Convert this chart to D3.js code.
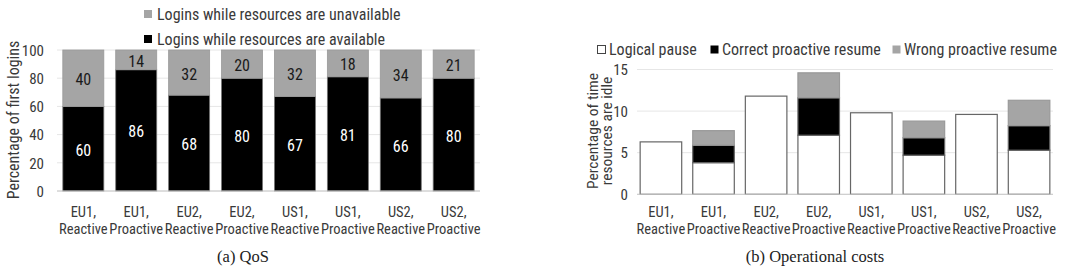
<!DOCTYPE html>
<html>
<head>
<meta charset="utf-8">
<script src="https://cdn.jsdelivr.net/npm/d3@7"></script>
<style>
  body { margin: 0; background: white; }
  text { font-family: "Roboto", sans-serif; font-stretch: condensed; }
  .caption { font-family: "Liberation Serif", "DejaVu Serif", serif; font-stretch: normal; }
</style>
</head>
<body>
<div id="chart"></div>
<script>
// categories shared by both panels
const categories = ['EU1,|Reactive', 'EU1,|Proactive', 'EU2,|Reactive', 'EU2,|Proactive',
                    'US1,|Reactive', 'US1,|Proactive', 'US2,|Reactive', 'US2,|Proactive'];

// (a) QoS
const available = [60, 86, 68, 80, 67, 81, 66, 80];
const unavailable = [40, 14, 32, 20, 32, 18, 34, 21];
const qosTicks = [0, 20, 40, 60, 80, 100];

// (b) Operational costs
const logicalPause = [6.3, 3.8, 11.8, 7.1, 9.8, 4.7, 9.6, 5.3];
const correctResume = [0, 2.1, 0, 4.5, 0, 2.1, 0, 2.95];
const wrongResume = [0, 1.75, 0, 3.0, 0, 2.0, 0, 3.05];
const costTicks = [0, 5, 10, 15];

const svg = d3.select('#chart')
    .append('svg')
    .attr('width', 1080)
    .attr('height', 275);

const grey = '#a5a5a5';
const gridColor = '#e6e6e6';
const textColor = '#3a3a3a';

function drawXLabels(g, x, y0) {
    const lab = g.append('g');
    categories.forEach(c => {
        const parts = c.split('|');
        const cx = x(c) + x.bandwidth() / 2;
        const t = lab.append('text')
            .attr('text-anchor', 'middle')
            .attr('y', y0)
            .style('font-size', '14.5px')
            .attr('fill', textColor);
        t.append('tspan').attr('x', cx).text(parts[0]);
        t.append('tspan').attr('x', cx).attr('dy', 17).text(parts[1]);
    });
}

// ---------- (a) QoS ----------
{
    const g = svg.append('g');
    const x = d3.scaleBand().domain(categories).range([57, 480]).paddingInner(0.225).paddingOuter(0.11);
    const y = d3.scaleLinear().domain([0, 100]).range([191, 50]);

    g.append('g')
        .selectAll('line')
        .data(qosTicks)
        .enter()
        .append('line')
        .attr('x1', 57).attr('x2', 480)
        .attr('y1', d => y(d)).attr('y2', d => y(d))
        .attr('stroke', gridColor);

    const yAxis = d3.axisLeft(y).tickValues(qosTicks).tickSize(0).tickPadding(0);
    g.append('g')
        .attr('transform', 'translate(44,0)')
        .call(yAxis)
        .call(a => a.select('.domain').remove())
        .call(a => a.selectAll('text').style('font-size', '15px').style('font-family', null).attr('fill', textColor).attr('dy', '0.35em'));

    const rows = categories.map((c, i) => ({ c, a: available[i], u: unavailable[i] }));

    g.selectAll('.avail')
        .data(rows).enter().append('rect')
        .attr('x', d => x(d.c)).attr('width', x.bandwidth())
        .attr('y', d => y(d.a)).attr('height', d => y(0) - y(d.a))
        .attr('fill', 'black').attr('stroke', '#777').attr('stroke-width', 0.8);

    g.selectAll('.unavail')
        .data(rows).enter().append('rect')
        .attr('x', d => x(d.c)).attr('width', x.bandwidth())
        .attr('y', y(100)).attr('height', d => y(d.a) - y(100))
        .attr('fill', grey).attr('stroke', '#999').attr('stroke-width', 0.8);

    g.append('line')
        .attr('x1', 57).attr('x2', 480)
        .attr('y1', y(0)).attr('y2', y(0))
        .attr('stroke', '#c8c8c8');

    g.selectAll('.lblA')
        .data(rows).enter().append('text')
        .attr('x', d => x(d.c) + x.bandwidth() / 2)
        .attr('y', d => (y(0) + y(d.a)) / 2 + 1.5)
        .attr('dy', '0.35em')
        .attr('text-anchor', 'middle')
        .attr('fill', 'white')
        .style('font-size', '16px')
        .text(d => d.a);

    g.selectAll('.lblU')
        .data(rows).enter().append('text')
        .attr('x', d => x(d.c) + x.bandwidth() / 2)
        .attr('y', d => (y(100) + y(d.a)) / 2 + 1.5)
        .attr('dy', '0.35em')
        .attr('text-anchor', 'middle')
        .attr('fill', '#1a1a1a')
        .style('font-size', '16px')
        .text(d => d.u);

    g.append('text')
        .attr('transform', 'translate(19,120) rotate(-90)')
        .attr('text-anchor', 'middle')
        .attr('fill', textColor)
        .style('font-size', '16px')
        .text('Percentage of first logins');

    drawXLabels(g, x, 217);

    // legend
    const legendItems = [
        { label: 'Logins while resources are unavailable', color: grey },
        { label: 'Logins while resources are available', color: 'black' }
    ];
    g.selectAll(null)
        .data(legendItems)
        .enter()
        .append('g')
        .attr('transform', (d, i) => `translate(144, ${10 + i * 25})`)
        .each(function(d) {
            d3.select(this).append('rect')
                .attr('width', 8).attr('height', 8)
                .attr('fill', d.color);
            d3.select(this).append('text')
                .attr('x', 13).attr('y', 10)
                .attr('fill', textColor)
                .style('font-size', '16px')
                .text(d.label);
        });

    g.append('text')
        .attr('class', 'caption')
        .attr('x', 243).attr('y', 262)
        .attr('text-anchor', 'middle')
        .attr('fill', '#222')
        .style('font-size', '16.5px')
        .text('(a)  QoS');
}

// ---------- (b) Operational costs ----------
{
    const g = svg.append('g');
    const x = d3.scaleBand().domain(categories).range([637, 1053]).paddingInner(0.21).paddingOuter(0.06);
    const y = d3.scaleLinear().domain([0, 15]).range([194.3, 69.5]);

    g.append('g')
        .selectAll('line')
        .data(costTicks)
        .enter()
        .append('line')
        .attr('x1', 637).attr('x2', 1053)
        .attr('y1', d => y(d)).attr('y2', d => y(d))
        .attr('stroke', gridColor);

    const yAxis = d3.axisLeft(y).tickValues(costTicks).tickSize(0).tickPadding(0);
    g.append('g')
        .attr('transform', 'translate(628,0)')
        .call(yAxis)
        .call(a => a.select('.domain').remove())
        .call(a => a.selectAll('text').style('font-size', '15px').style('font-family', null).attr('fill', textColor).attr('dy', '0.35em'));

    const keys = ['logical', 'correct', 'wrong'];
    const colors = { logical: 'white', correct: 'black', wrong: grey };
    const table = categories.map((c, i) => ({
        c, logical: logicalPause[i], correct: correctResume[i], wrong: wrongResume[i]
    }));
    const stacked = d3.stack().keys(keys)(table);

    stacked.forEach(layer => {
        g.selectAll(null)
            .data(layer.filter(d => d[1] - d[0] > 0))
            .enter()
            .append('rect')
            .attr('x', d => x(d.data.c))
            .attr('width', x.bandwidth())
            .attr('y', d => y(d[1]))
            .attr('height', d => y(d[0]) - y(d[1]))
            .attr('fill', colors[layer.key])
            .attr('stroke', layer.key === 'wrong' ? '#999' : '#666')
            .attr('stroke-width', 1.2);
    });

    g.append('line')
        .attr('x1', 637).attr('x2', 1053)
        .attr('y1', y(0)).attr('y2', y(0))
        .attr('stroke', '#c8c8c8');

    g.append('text')
        .attr('transform', 'translate(598,131) rotate(-90)')
        .attr('text-anchor', 'middle')
        .attr('fill', textColor)
        .style('font-size', '15.5px')
        .selectAll('tspan')
        .data(['Percentage of time', 'resources are idle'])
        .enter()
        .append('tspan')
        .attr('x', 0)
        .attr('dy', (d, i) => i === 0 ? 0 : 14)
        .text(d => d);

    drawXLabels(g, x, 217);

    const legendItems = [
        { label: 'Logical pause', color: 'white', x: 597 },
        { label: 'Correct proactive resume', color: 'black', x: 710 },
        { label: 'Wrong proactive resume', color: grey, x: 892 }
    ];
    g.selectAll(null)
        .data(legendItems)
        .enter()
        .append('g')
        .attr('transform', d => `translate(${d.x}, 45)`)
        .each(function(d) {
            d3.select(this).append('rect')
                .attr('x', 0.5).attr('y', 0.5)
                .attr('width', 8).attr('height', 8)
                .attr('fill', d.color)
                .attr('stroke', d.color === 'white' ? '#444' : 'none');
            d3.select(this).append('text')
                .attr('x', 12).attr('y', 10)
                .attr('fill', textColor)
                .style('font-size', '16px')
                .text(d.label);
        });

    g.append('text')
        .attr('class', 'caption')
        .attr('x', 815).attr('y', 262)
        .attr('text-anchor', 'middle')
        .attr('fill', '#222')
        .style('font-size', '16.5px')
        .text('(b)  Operational costs');
}
</script>
</body>
</html>
